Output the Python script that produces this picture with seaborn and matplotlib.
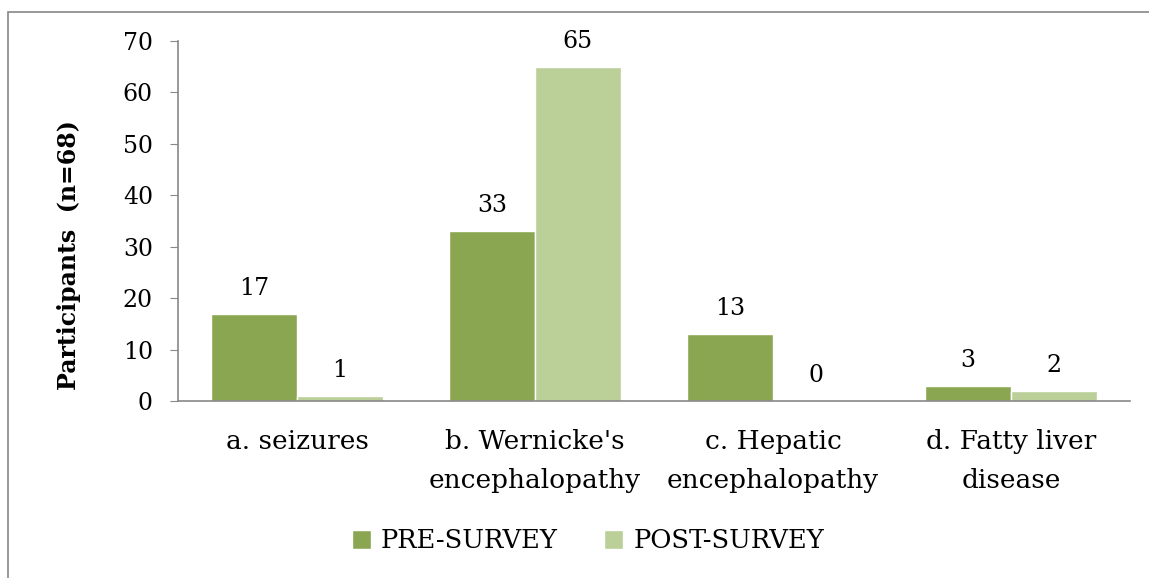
import pandas as pd
import seaborn as sns
import matplotlib.pyplot as plt
from matplotlib.patches import Rectangle

# data
categories = ["a. seizures", "b. Wernicke's\nencephalopathy",
              "c. Hepatic\nencephalopathy", "d. Fatty liver\ndisease"]
pre_survey = [17, 33, 13, 3]
post_survey = [1, 65, 0, 2]
series_names = ["PRE-SURVEY", "POST-SURVEY"]
colors = ["#8BA650", "#BBCF98"]

df = pd.DataFrame({
    "category": categories * 2,
    "value": pre_survey + post_survey,
    "survey": [series_names[0]] * 4 + [series_names[1]] * 4,
})

sns.set_style("white")
plt.rcParams['font.family'] = ['DejaVu Serif']
plt.rcParams['text.color'] = 'black'
plt.rcParams['axes.labelcolor'] = 'black'

fig = plt.figure(figsize=(11.49, 5.78), dpi=100)
ax = fig.add_axes([178 / 1149, 1 - 401 / 578, (1130 - 178) / 1149, 360 / 578])

sns.barplot(data=df, x="category", y="value", hue="survey", palette=colors,
            width=0.72, saturation=1, ax=ax, legend=True)

# value labels
for cont in ax.containers:
    ax.bar_label(cont, fmt="%d", padding=10, fontsize=17, color="black")

ax.set_ylim(0, 70)
ax.set_yticks(range(0, 71, 10))
ax.set_xlim(-0.5, 3.5)
ax.set_xlabel("")
ax.set_ylabel("Participants  (n=68)", fontsize=17, fontweight="bold")
ax.yaxis.set_label_coords(-0.102, 0.405)
ax.tick_params(axis="y", length=6, color="#888888", labelcolor="black",
               labelsize=17, left=True, pad=12)
ax.tick_params(axis="x", length=0, labelcolor="black", labelsize=19, pad=20)
for lab in ax.get_xticklabels():
    lab.set_linespacing(1.7)

for s in ["top", "right"]:
    ax.spines[s].set_visible(False)
for s in ["left", "bottom"]:
    ax.spines[s].set_color("#888888")
    ax.spines[s].set_linewidth(1.2)

ax.legend(loc="center", bbox_to_anchor=(588 / 1149, 1 - 541 / 578),
          bbox_transform=fig.transFigure, ncol=2, frameon=False, fontsize=18.5,
          handlelength=0.75, handleheight=0.75, handletextpad=0.4, columnspacing=1.8)

# outer chart border
fig.patches.append(Rectangle((8 / 1149, -0.1), 1.2, 1.1 - 12.5 / 578,
                             transform=fig.transFigure, fill=False,
                             edgecolor="#888888", linewidth=1.2))

fig.savefig("out.png", dpi=100)
